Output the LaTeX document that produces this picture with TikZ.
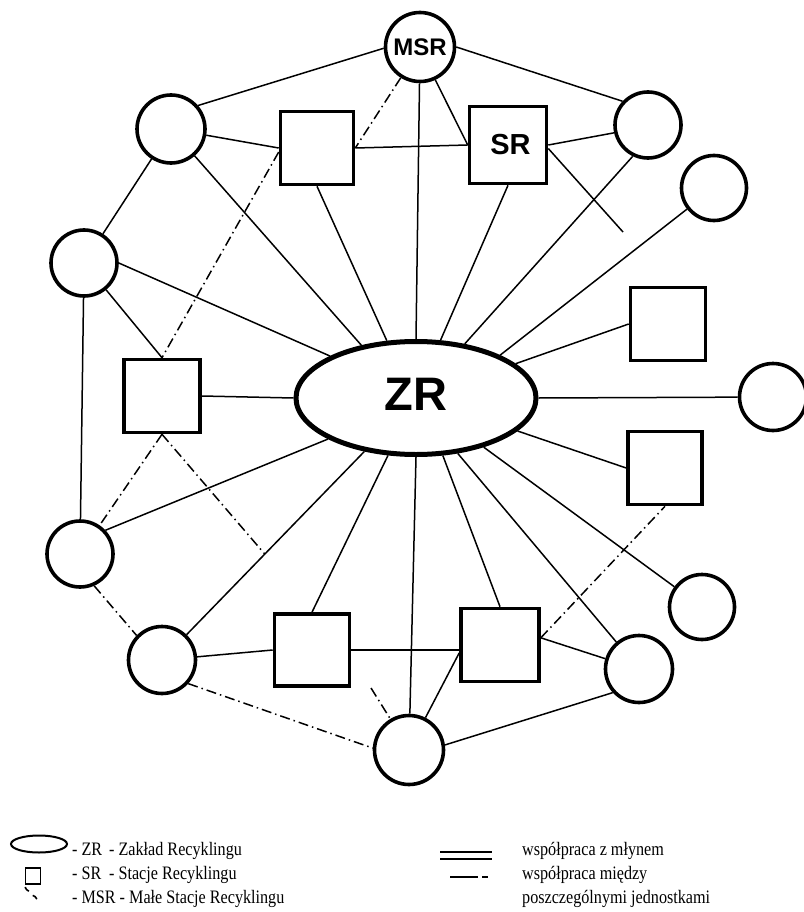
\documentclass[tikz,border=0pt]{standalone}
\usepackage{fontspec}
\setmainfont{Liberation Serif}
\newfontfamily\labelfont{Liberation Sans}
\newfontfamily\legendfont[FakeStretch=0.85]{Liberation Serif}
\usetikzlibrary{shapes.geometric}

\begin{document}
\begin{tikzpicture}[x=1pt,y=-1pt,
  link/.style={line width=1.5pt},
  coop/.style={line width=1.5pt, dash pattern=on 10pt off 4pt on 1.5pt off 4pt},
  msr/.style={circle, draw, line width=3.6pt, minimum size=#1, inner sep=0pt},
  msr/.default=66pt,
  srbox/.style={rectangle, draw, line width=3.6pt, inner sep=0pt},
  zr/.style={ellipse, draw, line width=5pt, inner sep=0pt},
  legtext/.style={font=\legendfont\fontsize{19}{19}\selectfont, inner sep=0pt, anchor=base west}
]
\useasboundingbox (0,0) rectangle (803,912);

% recycling plant
\node[zr, minimum width=240pt, minimum height=113pt,
      font=\labelfont\bfseries\fontsize{47}{47}\selectfont] (ZR) at (416,398)
      {\raisebox{-12pt}[0pt][0pt]{ZR}};

% recycling stations
\node[srbox, minimum width=73pt, minimum height=73pt] (A)  at (317,148) {};
\node[srbox, minimum width=77pt, minimum height=77pt,
      font=\labelfont\bfseries\fontsize{29}{29}\selectfont] (SR) at (508,145) {\hspace*{5pt}SR};
\node[srbox, minimum width=76pt, minimum height=73pt] (B)  at (162,396) {};
\node[srbox, minimum width=75pt, minimum height=73pt] (G)  at (668,324) {};
\node[srbox, minimum width=74pt, minimum height=73pt] (E)  at (665,468) {};
\node[srbox, minimum width=75pt, minimum height=72pt] (D)  at (312,650) {};
\node[srbox, minimum width=78pt, minimum height=73pt] (F)  at (500,645) {};

% small recycling stations
\node[msr=69pt, font=\labelfont\bfseries\fontsize{24}{24}\selectfont] (MSR) at (420,47) {MSR};
\node[msr=68pt] (C1)  at (171,129) {};
\node[msr]      (C2)  at (648,125) {};
\node[msr=65pt] (C3)  at (714,188) {};
\node[msr]      (C4)  at (84,263) {};
\node[msr=67pt] (C10) at (773,397) {};
\node[msr]      (C5)  at (80,554) {};
\node[msr=67pt] (C6)  at (162,660) {};
\node[msr=69pt] (C7)  at (409,750) {};
\node[msr=67pt] (C9)  at (639,669) {};
\node[msr=65pt] (C8)  at (702,607) {};

\coordinate (srEnd) at (623,232);
\coordinate (dEnd) at (371,688);

% spokes to the plant
\draw[link] (MSR) -- (ZR.north);
\draw[link] (C1) -- (ZR.136);
\draw[link] (A.south) -- (ZR.117);
\draw[link] (SR.south) -- (ZR.67);
\draw[link] (C2.244) -- (ZR.48);
\draw[link] (C3) -- (ZR.27);
\draw[link] (G.west) -- (ZR.19);
\draw[link] (ZR.east) -- (C10);
\draw[link] (E.west) -- (ZR.-18);
\draw[link] (C8) -- (ZR.-36);
\draw[link] (C9) -- (ZR.-53);
\draw[link] (F.north) -- (ZR.-65);
\draw[link] (ZR.south) -- (C7);
\draw[link] (D.north) -- (ZR.-116);
\draw[link] (C6) -- coordinate[pos=0.44] (cross6) (ZR.-134);
\draw[link] (C5.43) -- (ZR.-155);
\draw[link] (B.east) -- (ZR.west);
\draw[link] (C4.east) -- (ZR.154);

% links between units
\draw[link] (MSR.182) -- (C1.41);
\draw[link] (MSR.east) -- (C2.137);
\draw[link] (MSR.-65) -- (SR.west);
\draw[link] (A.east) -- (SR.west);
\draw[link] (C1) -- (A.west);
\draw[link] (SR.east) -- (C2.193);
\draw[link] (SR.-5) -- (srEnd);
\draw[link] (C1) -- (C4);
\draw[link] (C4) -- (B.north);
\draw[link] (C4) -- (C5);
\draw[link] (C6) -- (D.west);
\draw[link] (D.east) -- (F.west |- D.east);
\draw[link] (F.191) -- (C7.63);
\draw[link] (F.10) -- (C9.163);
\draw[link] (C9.222) -- (C7.8);

% cooperation between units
\draw[coop] (MSR.238) -- (A.east);
\draw[coop] (A.186) -- (B.north);
\draw[coop] (B.south) -- (C5);
\draw[coop] (B.south) -- (cross6);
\draw[coop] (C5.-66) -- (C6.136);
\draw[coop] (C6.-42) -- (C7.177);
\draw[coop] (dEnd) -- (C7.121);
\draw[coop] (F.10) -- (E.south);

% legend symbols
\node[ellipse, draw, line width=2pt, minimum width=56pt, minimum height=17pt, inner sep=0pt] (legZR) at (39,844) {};
\node[rectangle, draw, line width=1.6pt, minimum width=15pt, minimum height=16pt, inner sep=0pt] (legSR) at (33,876) {};
\node[circle, minimum size=12pt, inner sep=0pt] (legMSR) at (31,897) {};
\draw[line width=1.6pt] (legMSR.110) arc[start angle=-110, end angle=-165, radius=6pt];
\draw[line width=1.6pt] (legMSR.-20) arc[start angle=20, end angle=75, radius=6pt];
\draw[line width=1.5pt] (440,852) -- (492,852);
\draw[line width=1.5pt] (440,859) -- (492,859);
\draw[line width=1.5pt] (450,877) -- (478,877);
\draw[line width=1.5pt] (482,877) -- (488,877);

% legend texts
\node[legtext] (l1a) at (72,855) {- ZR};
\node[legtext] (l1b) at (109,855) {- Zakład Recyklingu};
\node[legtext] (l2a) at (72,879) {- SR};
\node[legtext] (l2b) at (109,879) {- Stacje Recyklingu};
\node[legtext] (l3) at (72,903) {- MSR - Małe Stacje Recyklingu};
\node[legtext] (r1) at (522,855) {współpraca z młynem};
\node[legtext] (r2) at (522,879) {współpraca między};
\node[legtext] (r3) at (522,903) {poszczególnymi jednostkami};
\end{tikzpicture}
\end{document}
